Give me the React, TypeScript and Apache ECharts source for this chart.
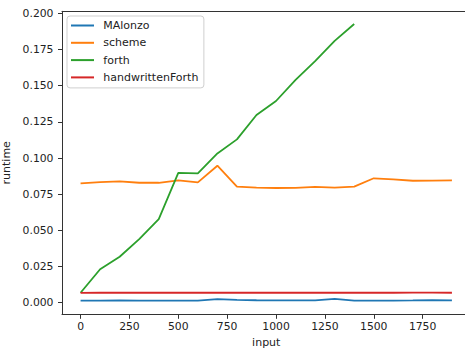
import React, { useEffect, useRef } from "react";
import * as echarts from "echarts";

const inputs = [0, 100, 200, 300, 400, 500, 600, 700, 800, 900, 1000, 1100, 1200, 1300, 1400, 1500, 1600, 1700, 1800, 1900];
const malonzo = [0.0015, 0.0015, 0.0016, 0.0015, 0.0015, 0.0015, 0.0015, 0.0025, 0.0019, 0.0017, 0.0016, 0.0016, 0.0016, 0.0026, 0.0015, 0.0015, 0.0015, 0.0016, 0.0018, 0.0016];
const scheme = [0.0825, 0.0834, 0.0839, 0.0829, 0.0829, 0.0846, 0.0832, 0.0947, 0.0802, 0.0795, 0.0793, 0.0794, 0.0800, 0.0795, 0.0802, 0.0860, 0.0853, 0.0843, 0.0844, 0.0845];
const forth = [0.0069, 0.0231, 0.0318, 0.0440, 0.0578, 0.0898, 0.0894, 0.1032, 0.1129, 0.1297, 0.1394, 0.1540, 0.1670, 0.1810, 0.1926];
const handwrittenForth = [0.0068, 0.0069, 0.0069, 0.0069, 0.0069, 0.0069, 0.0069, 0.0069, 0.0069, 0.0069, 0.0069, 0.0069, 0.0069, 0.0069, 0.0069, 0.0069, 0.0069, 0.0070, 0.0070, 0.0069];
const xTicks = [0, 250, 500, 750, 1000, 1250, 1500, 1750];
const yTicks = [0, 0.025, 0.05, 0.075, 0.1, 0.125, 0.15, 0.175, 0.2];

const seriesNames = ["MAlonzo", "scheme", "forth", "handwrittenForth"];
const seriesData = [malonzo, scheme, forth, handwrittenForth];
const colors = ["#1f77b4", "#ff7f0e", "#2ca02c", "#d62728"];

const FONT = "DejaVu Sans";
const SPINE = "#333";
const TEXT = "#222";

export default function App() {
  const ref = useRef<HTMLDivElement>(null);
  useEffect(() => {
    if (!ref.current) return;
    const chart = echarts.init(ref.current, undefined, { renderer: "svg" });
    chart.setOption({
      animation: false,
      color: colors,
      textStyle: { fontFamily: FONT },
      grid: {
        left: 62,
        top: 11.3,
        right: -5.5,
        bottom: 36.7,
        containLabel: false,
        outerBoundsMode: "none",
      },
      legend: {
        orient: "vertical",
        left: 67,
        top: 16,
        padding: [3.5, 5.5, 4.5, 4],
        borderColor: "#cfcfcf",
        borderWidth: 1,
        borderRadius: 3,
        backgroundColor: "rgba(255,255,255,0.8)",
        itemWidth: 23,
        itemHeight: 2,
        itemGap: 5.3,
        icon: "rect",
        textStyle: { fontFamily: FONT, fontSize: 11, color: TEXT, lineHeight: 12, padding: [0, 0, 0, 4.3] },
        data: seriesNames,
      },
      xAxis: [
        {
          type: "value",
          position: "bottom",
          min: -95,
          max: 1995,
          name: "input",
          nameLocation: "middle",
          nameGap: 22,
          nameTextStyle: { fontFamily: FONT, fontSize: 11, color: TEXT, verticalAlign: "top" },
          axisLine: { show: true, onZero: false, lineStyle: { color: SPINE, width: 1 } },
          splitLine: { show: false },
          axisTick: { show: true, length: 4.5, customValues: xTicks, lineStyle: { color: SPINE } },
          axisLabel: {
            customValues: xTicks,
            margin: 7,
            fontFamily: FONT,
            fontSize: 10.8,
            color: TEXT,
            formatter: (v: number) => String(v),
          },
        },
        {
          type: "value",
          position: "top",
          min: -95,
          max: 1995,
          axisLine: { show: true, onZero: false, lineStyle: { color: SPINE, width: 1 } },
          splitLine: { show: false },
          axisTick: { show: false },
          axisLabel: { show: false },
        },
      ],
      yAxis: {
        type: "value",
        min: -0.008,
        max: 0.2014,
        name: "runtime",
        nameLocation: "middle",
        nameGap: 43,
        nameRotate: 90,
        nameTextStyle: { fontFamily: FONT, fontSize: 11, color: TEXT },
        axisLine: { show: true, onZero: false, lineStyle: { color: SPINE, width: 1 } },
        splitLine: { show: false },
        axisTick: { show: true, length: 4, customValues: yTicks, lineStyle: { color: SPINE } },
        axisLabel: {
          customValues: yTicks,
          margin: 8.5,
          fontFamily: FONT,
          fontSize: 10.8,
          color: TEXT,
          formatter: (v: number) => v.toFixed(3),
        },
      },
      series: seriesNames.map((name, i) => ({
        name,
        type: "line",
        xAxisIndex: 0,
        showSymbol: false,
        symbol: "none",
        lineStyle: { width: 1.8, color: colors[i] },
        itemStyle: { color: colors[i] },
        data: seriesData[i].map((v, j) => [inputs[j], v]),
      })),
    });
    return () => chart.dispose();
  }, []);
  return <div ref={ref} style={{ position: "absolute", left: 0, top: 0, width: 465, height: 351 }} />;
}
